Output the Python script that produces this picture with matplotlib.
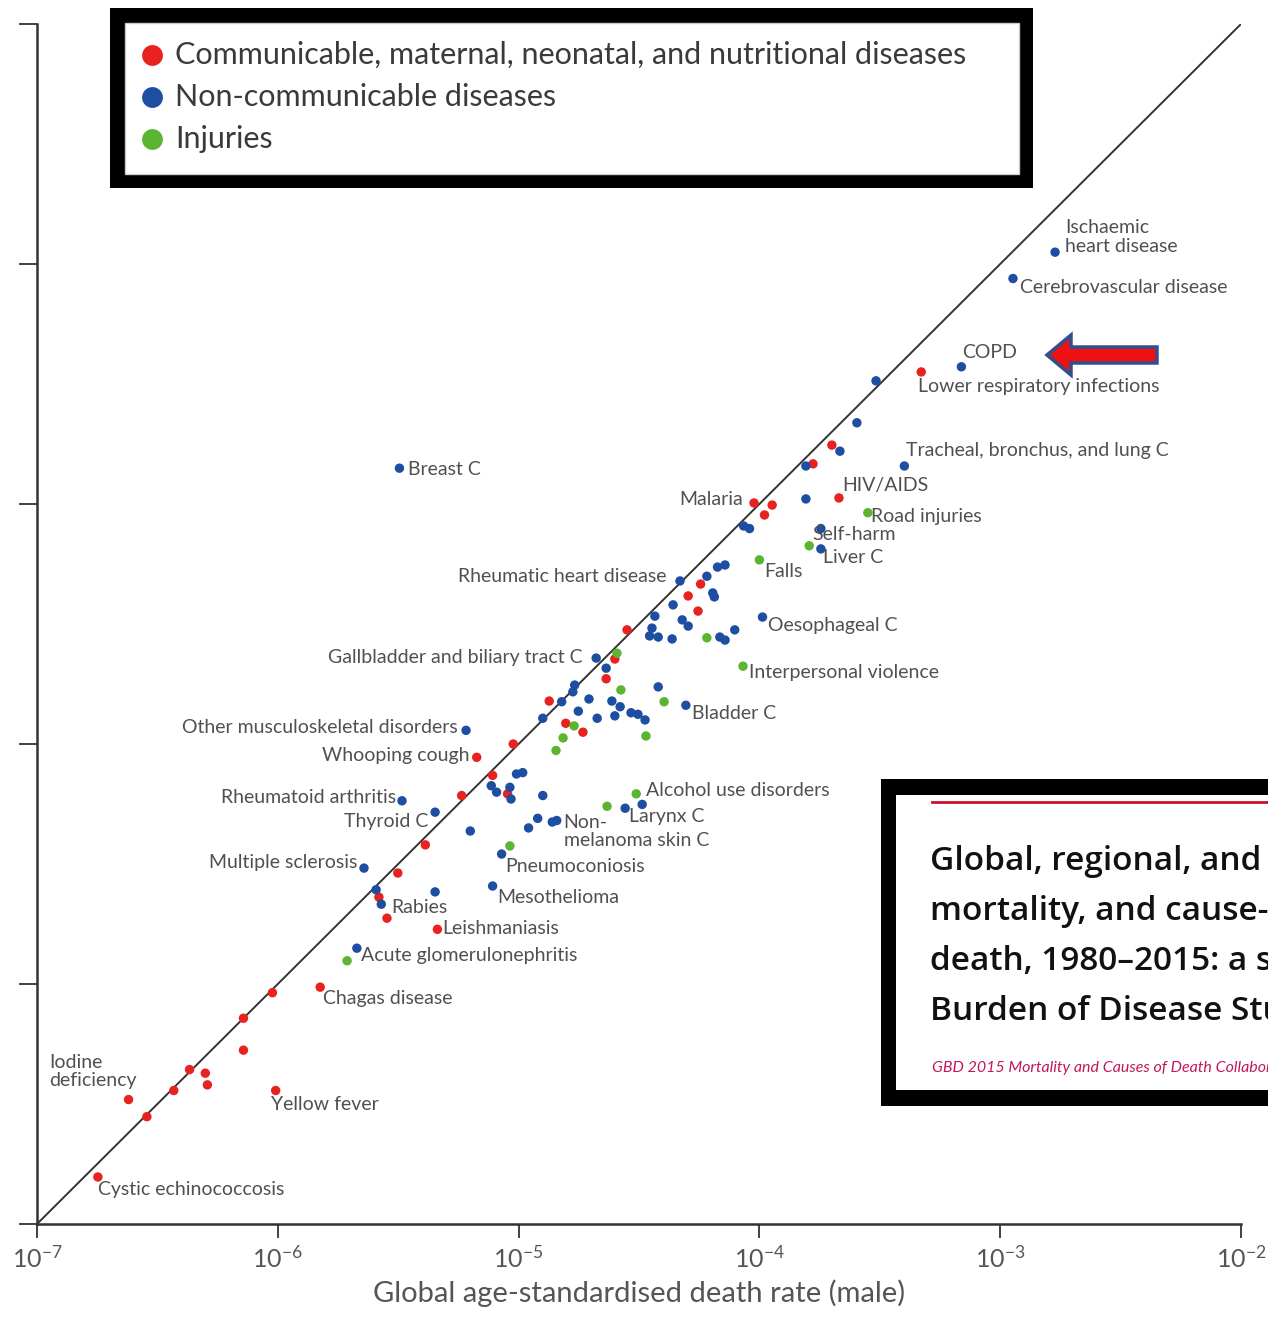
import matplotlib
matplotlib.use("Agg")
import matplotlib.pyplot as plt
from matplotlib.patches import Rectangle, FancyArrow
from matplotlib.transforms import Affine2D

W, H = 1268, 1319

# male / female age-standardised death rates
COMM_MALE = [4.7e-4, 2.0e-4, 1.67e-4, 2.14e-4, 9.5e-5, 1.13e-4, 1.05e-4, 5.7e-5,
             5.06e-5, 5.56e-5, 2.82e-5, 2.51e-5, 2.31e-5, 1.34e-5, 1.57e-5, 1.85e-5,
             6.7e-6, 9.5e-6, 7.8e-6, 9.0e-6, 5.8e-6, 4.1e-6, 3.15e-6, 2.63e-6,
             2.84e-6, 4.6e-6, 1.5e-6, 9.5e-7, 7.2e-7, 7.2e-7, 4.3e-7, 5.0e-7,
             5.1e-7, 3.7e-7, 9.8e-7, 2.4e-7, 2.86e-7, 1.79e-7]
COMM_FEMALE = [3.55e-4, 1.76e-4, 1.47e-4, 1.06e-4, 1.01e-4, 9.9e-5, 9.0e-5, 4.64e-5,
               4.14e-5, 3.58e-5, 2.99e-5, 2.26e-5, 1.87e-5, 1.51e-5, 1.22e-5, 1.12e-5,
               8.8e-6, 1.0e-5, 7.4e-6, 6.2e-6, 6.1e-6, 3.8e-6, 2.9e-6, 2.3e-6,
               1.88e-6, 1.69e-6, 9.7e-7, 9.2e-7, 7.2e-7, 5.3e-7, 4.4e-7, 4.25e-7,
               3.8e-7, 3.6e-7, 3.6e-7, 3.3e-7, 2.8e-7, 1.57e-7]
COMM_NAMES = ["Lower respiratory infections", "", "", "HIV/AIDS", "Malaria", "", "", "",
              "", "", "", "", "", "", "", "",
              "Whooping cough", "", "", "", "", "", "", "",
              "Rabies", "Leishmaniasis", "Chagas disease", "", "", "", "", "",
              "", "", "Yellow fever", "Iodine\ndeficiency", "", "Cystic echinococcosis"]

NCD_MALE = [1.69e-3, 1.13e-3, 6.9e-4, 3.05e-4, 2.54e-4, 2.16e-4, 1.56e-4, 4.0e-4,
            1.56e-4, 8.6e-5, 9.1e-5, 1.8e-4, 1.8e-4, 4.68e-5, 6.05e-5, 6.7e-5,
            7.2e-5, 6.4e-5, 6.5e-5, 4.38e-5, 3.68e-5, 4.78e-5, 5.06e-5, 3.58e-5,
            3.5e-5, 3.8e-5, 4.34e-5, 6.85e-5, 7.2e-5, 7.9e-5, 1.03e-4, 2.1e-5,
            2.31e-5, 1.71e-5, 1.68e-5, 3.8e-5, 4.95e-5, 1.51e-5, 1.96e-5, 2.44e-5,
            2.64e-5, 1.77e-5, 1.26e-5, 2.12e-5, 2.51e-5, 2.93e-5, 3.13e-5, 3.35e-5,
            6.05e-6, 3.2e-6, 9.8e-6, 1.04e-5, 7.7e-6, 8.1e-6, 9.2e-6, 9.3e-6,
            1.26e-5, 3.28e-6, 4.5e-6, 6.3e-6, 1.2e-5, 1.1e-5, 1.38e-5, 1.44e-5,
            8.5e-6, 2.28e-6, 2.56e-6, 2.69e-6, 4.5e-6, 7.8e-6, 2.13e-6, 2.77e-5,
            3.26e-5]
NCD_FEMALE = [1.12e-3, 8.7e-4, 3.73e-4, 3.26e-4, 2.18e-4, 1.66e-4, 1.44e-4, 1.44e-4,
              1.05e-4, 8.1e-5, 7.9e-5, 7.9e-5, 6.5e-5, 4.78e-5, 5.0e-5, 5.46e-5,
              5.57e-5, 4.26e-5, 4.1e-5, 3.8e-5, 3.41e-5, 3.29e-5, 3.1e-5, 3.04e-5,
              2.82e-5, 2.79e-5, 2.74e-5, 2.79e-5, 2.71e-5, 2.99e-5, 3.38e-5, 2.28e-5,
              2.07e-5, 1.76e-5, 1.65e-5, 1.73e-5, 1.45e-5, 1.5e-5, 1.54e-5, 1.51e-5,
              1.43e-5, 1.37e-5, 1.28e-5, 1.28e-5, 1.31e-5, 1.35e-5, 1.33e-5, 1.26e-5,
              1.14e-5, 1.41e-4, 7.5e-6, 7.6e-6, 6.7e-6, 6.3e-6, 6.6e-6, 5.9e-6,
              6.1e-6, 5.8e-6, 5.2e-6, 4.34e-6, 4.9e-6, 4.47e-6, 4.73e-6, 4.8e-6,
              3.48e-6, 3.04e-6, 2.47e-6, 2.15e-6, 2.42e-6, 2.56e-6, 1.41e-6, 5.4e-6,
              5.6e-6]
NCD_NAMES = ["Ischaemic\nheart disease", "Cerebrovascular disease", "COPD", "", "", "", "",
             "Tracheal, bronchus, and lung C",
             "", "", "", "", "Liver C", "Rheumatic heart disease", "", "",
             "", "", "", "", "", "", "", "",
             "", "", "", "", "", "", "Oesophageal C", "Gallbladder and biliary tract C",
             "", "", "", "", "Bladder C", "", "", "",
             "", "", "", "", "", "", "", "",
             "Other musculoskeletal disorders", "Breast C", "", "", "", "", "", "",
             "", "Rheumatoid arthritis", "Thyroid C", "", "", "", "", "Non-\nmelanoma skin C",
             "Pneumoconiosis", "Multiple sclerosis", "", "", "", "Mesothelioma",
             "Acute glomerulonephritis", "Larynx C",
             ""]

INJ_MALE = [2.82e-4, 1.61e-4, 1.0e-4, 6.05e-5, 8.55e-5, 2.56e-5, 2.66e-5, 4.02e-5,
            1.7e-5, 1.53e-5, 3.38e-5, 1.43e-5, 3.08e-5, 2.33e-5, 9.2e-6, 1.94e-6]
INJ_FEMALE = [9.2e-5, 6.7e-5, 5.85e-5, 2.77e-5, 2.11e-5, 2.39e-5, 1.68e-5, 1.5e-5,
              1.19e-5, 1.06e-5, 1.08e-5, 9.4e-6, 6.2e-6, 5.5e-6, 3.76e-6, 1.25e-6]
INJ_NAMES = ["Road injuries", "Self-harm", "Falls", "", "Interpersonal violence", "", "", "",
             "", "", "", "", "Alcohol use disorders", "", "", ""]

GROUPS = ["Communicable, maternal, neonatal, and nutritional diseases",
          "Non-communicable diseases", "Injuries"]
COLORS = ["#e8231f", "#1e4ea1", "#5cb531"]

LIMITS = [1e-7, 1e-2]
XTICKS = [1e-7, 1e-6, 1e-5, 1e-4, 1e-3, 1e-2]
XTICKLABELS = ["$10^{-7}$", "$10^{-6}$", "$10^{-5}$", "$10^{-4}$", "$10^{-3}$", "$10^{-2}$"]

# label offset from its dot, in pixels (dx, dy up, alignment)
LABEL_OFFSETS = {
    "Lower respiratory infections": (-3, -15, "left"),
    "HIV/AIDS": (3, 12, "left"),
    "Malaria": (-11, 3, "right"),
    "Whooping cough": (-7, 2, "right"),
    "Rabies": (4, 11, "left"),
    "Leishmaniasis": (5, 1, "left"),
    "Chagas disease": (3, -11, "left"),
    "Iodine\ndeficiency": (-79, 28, "left"),
    "Yellow fever": (-5, -14, "left"),
    "Cystic echinococcosis": (0, -13, "left"),
    "Ischaemic\nheart disease": (10, 15, "left"),
    "Cerebrovascular disease": (7, -9, "left"),
    "COPD": (1, 14, "left"),
    "Tracheal, bronchus, and lung C": (2, 15, "left"),
    "Liver C": (2, -9, "left"),
    "Breast C": (9, -1, "left"),
    "Rheumatic heart disease": (-13, 4, "right"),
    "Oesophageal C": (6, -8, "left"),
    "Gallbladder and biliary tract C": (-14, 1, "right"),
    "Bladder C": (6, -8, "left"),
    "Other musculoskeletal disorders": (-8, 3, "right"),
    "Rheumatoid arthritis": (-6, 3, "right"),
    "Thyroid C": (-7, -9, "right"),
    "Non-\nmelanoma skin C": (7, -11, "left"),
    "Larynx C": (4, -8, "left"),
    "Multiple sclerosis": (-7, 6, "right"),
    "Pneumoconiosis": (4, -12, "left"),
    "Mesothelioma": (5, -11, "left"),
    "Acute glomerulonephritis": (4, -7, "left"),
    "Road injuries": (3, -4, "left"),
    "Self-harm": (3, 11, "left"),
    "Falls": (5, -12, "left"),
    "Interpersonal violence": (6, -6, "left"),
    "Alcohol use disorders": (10, 3, "left"),
}

TITLE_LINES = ["Global, regional, and national life expectancy, all-cause",
               "mortality, and cause-specific mortality for 249 causes of",
               "death, 1980\u20132015: a systematic analysis for the Global",
               "Burden of Disease Study 2015"]
AUTHORS = "GBD 2015 Mortality and Causes of Death Collaborators"

plt.rcParams["font.family"] = ["Lato", "DejaVu Sans"]
plt.rcParams["mathtext.fontset"] = "custom"
plt.rcParams["mathtext.rm"] = "Lato"
plt.rcParams["mathtext.it"] = "Lato:italic"

LABEL_COLOR = "#505050"


def main():
    fig = plt.figure(figsize=(W / 100, H / 100), dpi=100)
    # pixel coords with origin top-left, for boxes drawn on the figure
    px = Affine2D().scale(1 / W, -1 / H).translate(0, 1) + fig.transFigure

    ax = fig.add_axes([37 / W, (H - 1224) / H, (1241 - 37) / W, (1224 - 24) / H])
    ax.set_xscale("log")
    ax.set_yscale("log")
    ax.set_xlim(LIMITS)
    ax.set_ylim(LIMITS)

    ax.plot(LIMITS, LIMITS, color="#333333", lw=1.4, zorder=1)

    series = [(COMM_MALE, COMM_FEMALE, COMM_NAMES),
              (NCD_MALE, NCD_FEMALE, NCD_NAMES),
              (INJ_MALE, INJ_FEMALE, INJ_NAMES)]
    for (male, female, names), color in zip(series, COLORS):
        ax.scatter(male, female, s=46, color=color, edgecolors="none", zorder=3)
        for xm, yf, name in zip(male, female, names):
            if not name:
                continue
            dx, dy, ha = LABEL_OFFSETS[name]
            ax.annotate(name, (xm, yf), xytext=(dx, dy), textcoords="offset pixels",
                        ha=ha, va="center", fontsize=14, color=LABEL_COLOR,
                        linespacing=1.1, zorder=4)

    for side in ("top", "right"):
        ax.spines[side].set_visible(False)
    for side in ("left", "bottom"):
        ax.spines[side].set_color("#333333")
        ax.spines[side].set_linewidth(1.8)

    ax.set_xticks(XTICKS)
    ax.set_xticklabels(XTICKLABELS)
    ax.set_yticks(XTICKS)
    ax.minorticks_off()
    ax.tick_params(axis="x", length=10, width=1.3, color="#333333",
                   labelsize=18, labelcolor="#555555", pad=5)
    ax.tick_params(axis="y", length=13, width=1.3, color="#333333", labelleft=False)
    ax.set_xlabel("Global age-standardised death rate (male)", fontsize=21,
                  color="#555555", labelpad=6)

    # legend box
    fig.add_artist(Rectangle((110, 188), 923, -180, transform=px,
                             facecolor="black", edgecolor="none"))
    fig.add_artist(Rectangle((125, 174), 894, -151, transform=px,
                             facecolor="white", edgecolor="#cccccc", lw=1))
    for i, (label, color) in enumerate(zip(GROUPS, COLORS)):
        y = 55 + 42 * i
        fig.add_artist(plt.Line2D([152], [y], transform=px, marker="o", ms=15,
                                  color=color, mec="none"))
        fig.text(175, y, label, transform=px, fontsize=22, color="#3a3a3a",
                 va="center", ha="left")

    # article title box, cut at the right edge
    fig.add_artist(Rectangle((881, 1106), 420, -327, transform=px,
                             facecolor="black", edgecolor="none"))
    fig.add_artist(Rectangle((896, 1090), 400, -295, transform=px,
                             facecolor="white", edgecolor="none"))
    fig.add_artist(plt.Line2D([932, 1268], [802, 802], transform=px,
                              color="#c8102e", lw=2))
    for i, line in enumerate(TITLE_LINES):
        t = fig.text(930, 862 + 50 * i, line, transform=px, fontsize=24,
                     family=["Open Sans", "DejaVu Sans"], weight="semibold",
                     color="#111111", va="center", ha="left")
        t.set_clip_box(fig.bbox)
    t = fig.text(932, 1068, AUTHORS, transform=px, fontsize=11.5, style="italic",
                 color="#c2185b", va="center", ha="left")
    t.set_clip_box(fig.bbox)

    # arrow pointing at COPD
    fig.add_artist(FancyArrow(1157, 355, -110, 0, width=16, head_width=40,
                              head_length=24, length_includes_head=True,
                              transform=px, facecolor="#ee1111",
                              edgecolor="#2f4f8f", lw=2.5))

    fig.savefig("out.png", dpi=100)


if __name__ == "__main__":
    main()
